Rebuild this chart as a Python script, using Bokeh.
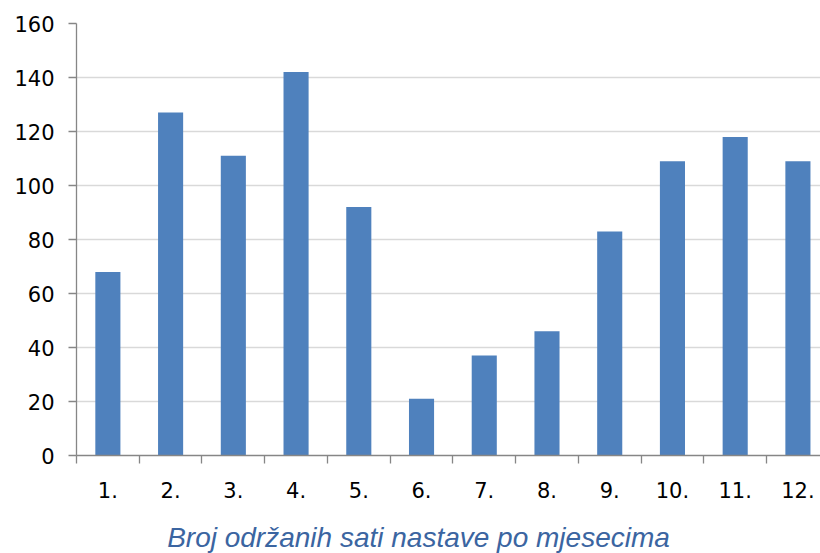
from bokeh.plotting import figure
from bokeh.models import FixedTicker, Range1d, Label
from bokeh.embed import file_html
from bokeh.resources import INLINE

months = [1, 2, 3, 4, 5, 6, 7, 8, 9, 10, 11, 12]
month_labels = ["1.", "2.", "3.", "4.", "5.", "6.", "7.", "8.", "9.", "10.", "11.", "12."]
hours = [68, 127, 111, 142, 92, 21, 37, 46, 83, 109, 118, 109]
y_ticks = [0, 20, 40, 60, 80, 100, 120, 140, 160]
axis_title = "Broj održanih sati nastave po mjesecima"

p = figure(width=820, height=553, output_backend="svg", toolbar_location=None,
           x_range=Range1d(0.5, 12.36), y_range=Range1d(0, 160),
           min_border_left=76, min_border_right=0, min_border_top=23, min_border_bottom=98)
p.outline_line_color = None
p.background_fill_color = "white"
p.border_fill_color = "white"

p.vbar(x=months, top=hours, width=0.4, fill_color="#4F81BD", line_color=None)

# grids
p.xgrid.grid_line_color = None
p.ygrid.ticker = FixedTicker(ticks=y_ticks)
p.ygrid.grid_line_color = "#D9D9D9"
p.ygrid.grid_line_width = 1.3

# x axis
xa = p.xaxis[0]
xa.ticker = FixedTicker(ticks=months, minor_ticks=[m - 0.5 for m in months] + [12.5])
xa.major_label_overrides = {m: lab for m, lab in zip(months, month_labels)}
xa.major_tick_line_color = None
xa.major_tick_out = 0
xa.major_tick_in = 0
xa.minor_tick_line_color = "#868686"
xa.minor_tick_out = 8
xa.minor_tick_in = 0
xa.axis_line_color = "#868686"
xa.axis_line_width = 1.3
xa.minor_tick_line_width = 1.3
xa.major_label_text_font = "DejaVu Sans"
xa.major_label_text_font_size = "21px"
xa.major_label_text_color = "#000000"
xa.major_label_standoff = 18

# y axis
ya = p.yaxis[0]
ya.ticker = FixedTicker(ticks=y_ticks, minor_ticks=[])
ya.minor_tick_line_color = None
ya.major_tick_out = 8
ya.major_tick_in = 0
ya.major_tick_line_color = "#868686"
ya.major_tick_line_width = 1.3
ya.axis_line_color = "#868686"
ya.axis_line_width = 1.3
ya.major_label_text_font = "DejaVu Sans"
ya.major_label_text_font_size = "21px"
ya.major_label_text_color = "#000000"
ya.major_label_standoff = 14

title = Label(x=342, y=-6, x_units="screen", y_units="screen", text=axis_title,
              text_align="center", text_baseline="alphabetic",
              text_font="Liberation Sans", text_font_style="italic",
              text_font_size="28px", text_color="#3B65A1")
p.add_layout(title, "below")

open("out.html", "w").write(file_html(p, INLINE))
